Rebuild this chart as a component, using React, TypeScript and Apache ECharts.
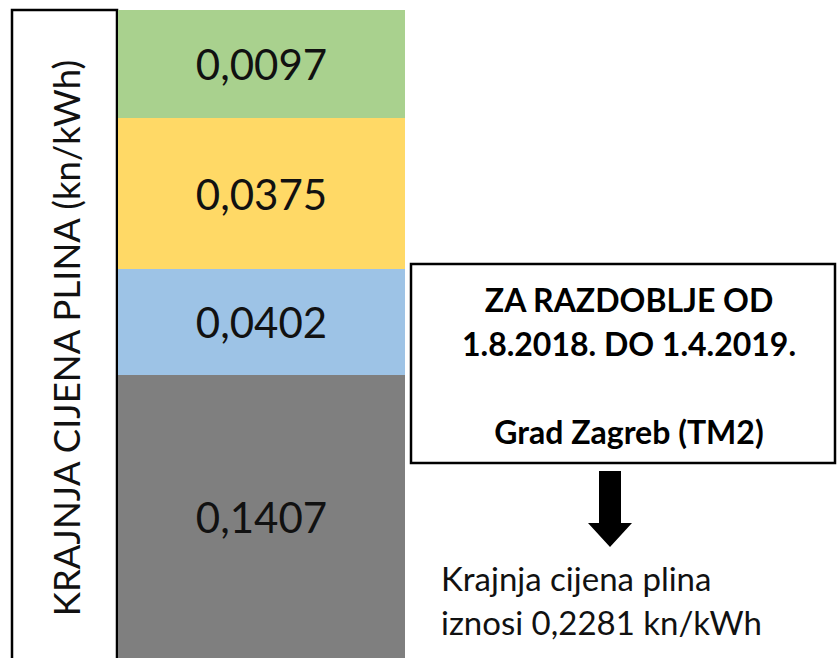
import React, { useEffect, useRef } from "react";
import * as echarts from "echarts";

// Price components (kn/kWh), bottom to top
const components = ["Opskrba", "Distribucija", "Transport", "Ostalo"];
const priceValues = [0.1407, 0.0402, 0.0375, 0.0097];
// The reference is a schematic diagram: band heights (relative units)
const bandWeights = [283, 106, 151, 108];
const bandColors = ["#7F7F7F", "#9DC3E6", "#FFD966", "#A9D18E"];
const totalPrice = 0.2281;
const axisTitle = "KRAJNJA CIJENA PLINA (kn/kWh)";
const boxLines = ["ZA RAZDOBLJE OD", "1.8.2018. DO 1.4.2019.", "Grad Zagreb (TM2)"];

const fmt = (v: number) => v.toFixed(4).replace(".", ",");

export default function App() {
  const ref = useRef<HTMLDivElement>(null);
  useEffect(() => {
    document.body.style.margin = "0";
    const chart = echarts.init(ref.current!, null, { renderer: "svg" });
    const font = "Lato, 'Open Sans', sans-serif";
    const boxText = (text: string, y: number) => ({
      type: "text",
      x: 629,
      y,
      style: { text, fontFamily: font, fontWeight: "bold", fontSize: 32, fill: "#000", textAlign: "center", textVerticalAlign: "middle" },
    });
    chart.setOption({
      animation: false,
      backgroundColor: "#ffffff",
      grid: { left: 118, right: 432, top: 10, bottom: -4 },
      xAxis: { type: "category", data: [""], show: false },
      yAxis: { type: "value", show: false, min: 0, max: bandWeights.reduce((a, b) => a + b, 0) },
      series: components.map((name, i) => ({
        name,
        type: "bar",
        stack: "total",
        barWidth: "100%",
        barCategoryGap: 0,
        itemStyle: { color: bandColors[i] },
        label: {
          show: true,
          position: "inside",
          formatter: () => fmt(priceValues[i]),
          fontFamily: font,
          fontSize: 42,
          color: "#111111",
        },
        data: [bandWeights[i]],
      })),
      graphic: [
        {
          type: "rect",
          shape: { x: 12, y: 10, width: 105, height: 660 },
          style: { fill: "#ffffff", stroke: "#000000", lineWidth: 2.5 },
          z: 1,
        },
        {
          type: "text",
          x: 66,
          y: 338,
          rotation: Math.PI / 2,
          style: {
            text: axisTitle,
            fontFamily: font,
            fontSize: 36.5,
            fill: "#111111",
            textAlign: "center",
            textVerticalAlign: "middle",
          },
          z: 2,
        },
        {
          type: "rect",
          shape: { x: 411, y: 264, width: 424, height: 199 },
          style: { fill: "#ffffff", stroke: "#000000", lineWidth: 2.5 },
        },
        boxText(boxLines[0], 299),
        boxText(boxLines[1], 343),
        boxText(boxLines[2], 431),
        {
          type: "polygon",
          shape: { points: [[599, 471], [621, 471], [621, 523], [632, 523], [610, 547], [588, 523], [599, 523]] },
          style: { fill: "#000000" },
        },
        {
          type: "text",
          x: 441,
          y: 578,
          style: { text: "Krajnja cijena plina", fontFamily: font, fontSize: 33, fill: "#111", textAlign: "left", textVerticalAlign: "middle" },
        },
        {
          type: "text",
          x: 441,
          y: 622,
          style: { text: `iznosi ${fmt(totalPrice)} kn/kWh`, fontFamily: font, fontSize: 33, fill: "#111", textAlign: "left", textVerticalAlign: "middle" },
        },
      ],
    });
    return () => chart.dispose();
  }, []);
  return <div ref={ref} style={{ position: "fixed", left: 0, top: 0, width: 837, height: 658 }} />;
}
